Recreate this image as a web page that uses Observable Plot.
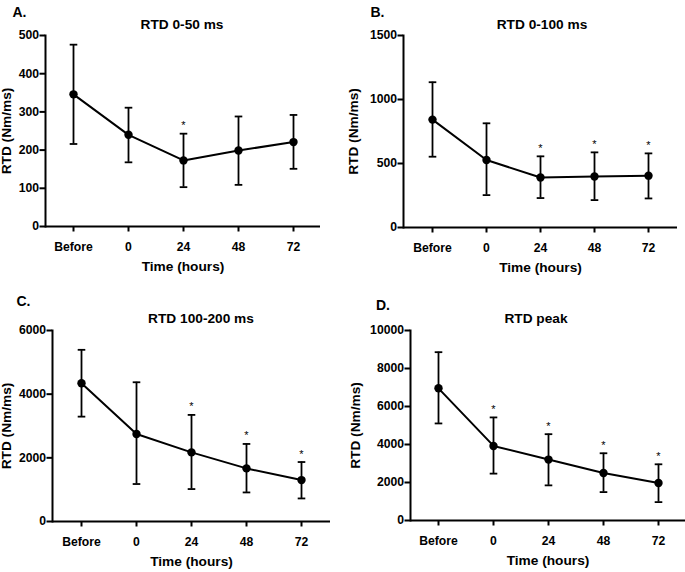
<!DOCTYPE html>
<html>
<head>
<meta charset="utf-8">
<script src="https://cdn.jsdelivr.net/npm/d3@7"></script>
<script src="https://cdn.jsdelivr.net/npm/@observablehq/plot@0.6"></script>
<style>
  html, body { margin: 0; padding: 0; background: #fff; }
  #root { position: relative; width: 685px; height: 572px; background: #fff; overflow: hidden;
          font-family: "Liberation Sans", Arial, sans-serif; font-weight: bold; color: #000; }
  .panel { position: absolute; }
  .letter { position: absolute; font-size: 14px; line-height: 14px; white-space: nowrap; }
  .title { position: absolute; font-size: 13.7px; line-height: 14px; white-space: nowrap; transform: translateX(-50%); }
  g[aria-label="y-axis label"] text, g[aria-label="x-axis label"] text { font-size: 13.7px; }
</style>
</head>
<body>
<div id="root"></div>
<script>
// ---- data ----
const times = ["Before", "0", "24", "48", "72"];

const meanA = [346, 240, 173, 199, 221];
const lowA  = [216, 168, 103, 109, 151];
const highA = [476, 311, 243, 288, 292];
const sigA  = [false, false, true, false, false];
const ticksA = [0, 100, 200, 300, 400, 500];

const meanB = [843, 527, 391, 399, 405];
const lowB  = [553, 253, 230, 214, 227];
const highB = [1135, 814, 556, 587, 579];
const sigB  = [false, false, true, true, true];
const ticksB = [0, 500, 1000, 1500];

const meanC = [4342, 2750, 2171, 1668, 1301];
const lowC  = [3294, 1177, 1019, 913, 724];
const highC = [5393, 4374, 3348, 2436, 1868];
const sigC  = [false, false, true, true, true];
const ticksC = [0, 2000, 4000, 6000];

const meanD = [6957, 3925, 3206, 2500, 1970];
const lowD  = [5108, 2467, 1849, 1495, 967];
const highD = [8859, 5425, 4543, 3539, 2958];
const sigD  = [false, true, true, true, true];
const ticksD = [0, 2000, 4000, 6000, 8000, 10000];

const titles = ["RTD 0-50 ms", "RTD 0-100 ms", "RTD 100-200 ms", "RTD peak"];
const letters = ["A.", "B.", "C.", "D."];
const xLabel = "Time (hours)";
const yLabel = "RTD (Nm/ms)";

// ---- layout ----
const panels = [
  {mean: meanA, low: lowA, high: highA, sig: sigA, ticks: ticksA,
   left: 0, top: 0, width: 340, height: 280, mL: 45, mR: 20, mT: 35, mB: 54, pad: 0.5, yOff: 44,
   letter: [12.5, 4.5], title: [182, 18]},
  {mean: meanB, low: lowB, high: highB, sig: sigB, ticks: ticksB,
   left: 340, top: 0, width: 345, height: 280, mL: 63, mR: 8, mT: 35, mB: 53, pad: 0.5, yOff: 55,
   letter: [370.5, 4.5], title: [542, 18]},
  {mean: meanC, low: lowC, high: highC, sig: sigC, ticks: ticksC,
   left: 0, top: 280, width: 340, height: 292, mL: 52, mR: 10, mT: 50, mB: 51, pad: 0.52, yOff: 51,
   letter: [16.5, 293.5], title: [201, 312]},
  {mean: meanD, low: lowD, high: highD, sig: sigD, ticks: ticksD,
   left: 340, top: 280, width: 345, height: 292, mL: 70, mR: 0, mT: 50, mB: 52, pad: 0.5, yOff: 60,
   letter: [376, 297.5], title: [536, 312]}
];

// horizontal cap for error bars
const capSymbol = {draw(ctx) { ctx.moveTo(-3.8, 0); ctx.lineTo(3.8, 0); }};

const root = document.getElementById("root");

panels.forEach((p, k) => {
  const rows = times.map((t, i) => ({time: t, mean: p.mean[i], low: p.low[i], high: p.high[i], sig: p.sig[i]}));
  const chart = Plot.plot({
    width: p.width,
    height: p.height,
    marginLeft: p.mL, marginRight: p.mR, marginTop: p.mT, marginBottom: p.mB,
    style: {fontFamily: "'Liberation Sans', Arial, sans-serif", fontSize: "12.2px", fontWeight: "bold",
            color: "#000", background: "transparent", overflow: "visible"},
    x: {type: "point", domain: times, padding: p.pad},
    y: {domain: [p.ticks[0], p.ticks[p.ticks.length - 1]]},
    marks: [
      Plot.axisY({ticks: p.ticks, tickFormat: d => String(d), tickSize: 5.5, tickPadding: 1, strokeWidth: 2,
                  label: yLabel, labelAnchor: "center", labelOffset: p.yOff, labelArrow: "none"}),
      Plot.axisX({tickSize: 5.5, tickPadding: 10, strokeWidth: 2,
                  label: xLabel, labelAnchor: "center", labelOffset: 44, labelArrow: "none"}),
      Plot.frame({anchor: "left", strokeWidth: 2}),
      Plot.ruleY([p.ticks[0]], {strokeWidth: 2}),
      Plot.ruleX(rows, {x: "time", y1: "low", y2: "high", strokeWidth: 1.8}),
      Plot.dot(rows, {x: "time", y: "low", symbol: capSymbol, stroke: "#000", fill: "none", strokeWidth: 1.8}),
      Plot.dot(rows, {x: "time", y: "high", symbol: capSymbol, stroke: "#000", fill: "none", strokeWidth: 1.8}),
      Plot.line(rows, {x: "time", y: "mean", strokeWidth: 2}),
      Plot.dot(rows, {x: "time", y: "mean", r: 4.2, fill: "#000"}),
      Plot.text(rows.filter(d => d.sig), {x: "time", y: "high", text: () => "*", dy: -8,
                fontSize: 11, fontWeight: "normal"})
    ]
  });
  const div = document.createElement("div");
  div.className = "panel";
  div.style.left = p.left + "px";
  div.style.top = p.top + "px";
  div.appendChild(chart);
  root.appendChild(div);

  const l = document.createElement("div");
  l.className = "letter";
  l.textContent = letters[k];
  l.style.left = p.letter[0] + "px";
  l.style.top = p.letter[1] + "px";
  root.appendChild(l);

  const t = document.createElement("div");
  t.className = "title";
  t.textContent = titles[k];
  t.style.left = p.title[0] + "px";
  t.style.top = p.title[1] + "px";
  root.appendChild(t);
});
</script>
</body>
</html>
